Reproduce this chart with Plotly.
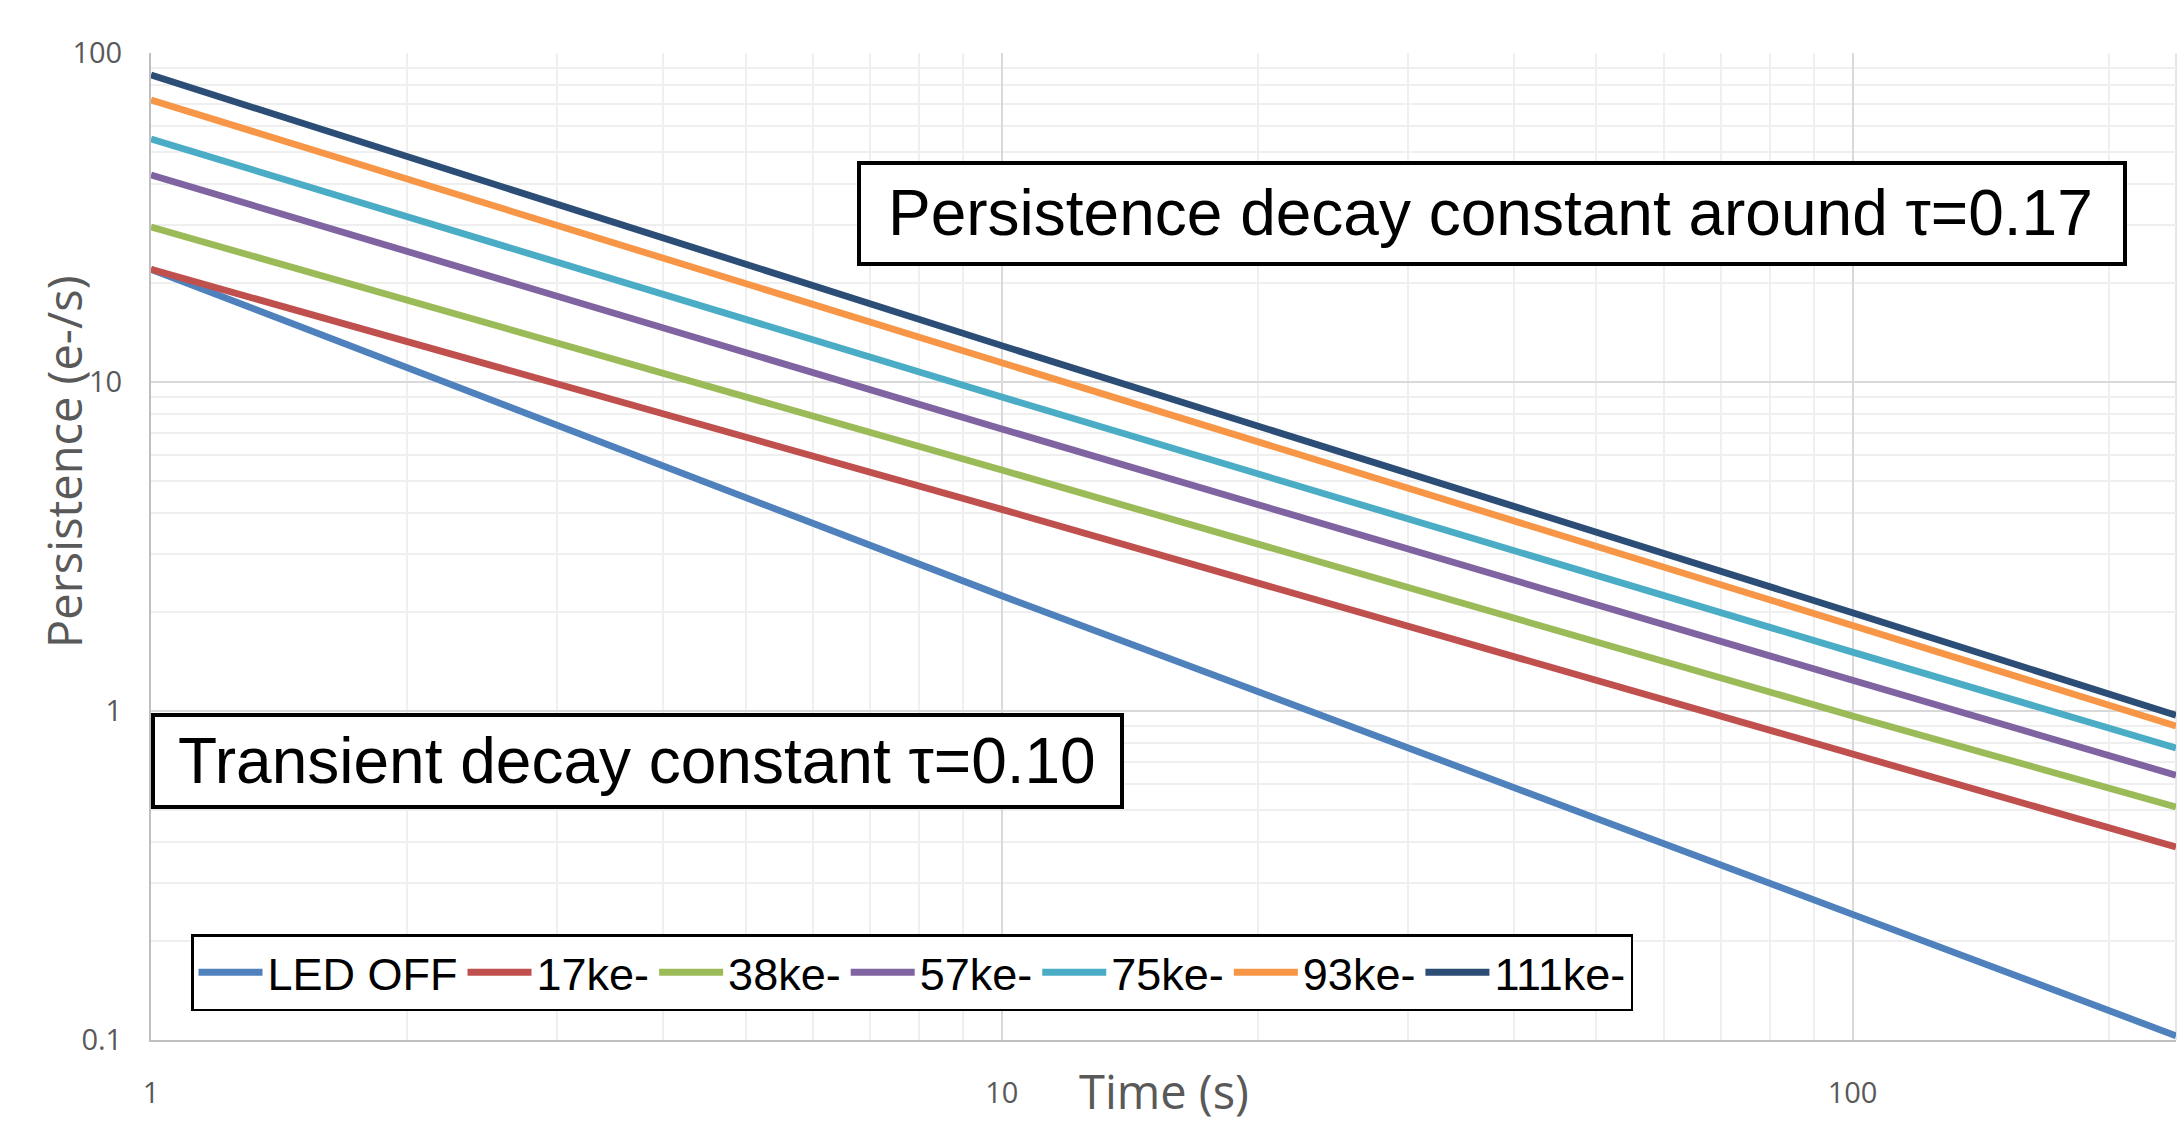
import plotly.graph_objects as go

# ---- data ----
times = [1, 10, 100, 240]
series_names = ["LED OFF", "17ke-", "38ke-", "57ke-", "75ke-", "93ke-", "111ke-"]
led_off = [22.0, 2.24, 0.241, 0.103]
ke17 = [22.0, 4.1, 0.74, 0.386]
ke38 = [29.6, 5.4, 0.966, 0.511]
ke57 = [42.6, 7.2, 1.24, 0.638]
ke75 = [54.8, 9.0, 1.51, 0.772]
ke93 = [72.0, 11.5, 1.82, 0.90]
ke111 = [85.7, 12.9, 1.99, 0.97]
series_values = [led_off, ke17, ke38, ke57, ke75, ke93, ke111]
colors = ["#4F81BD", "#C0504D", "#9BBB59", "#8064A2", "#4BACC6", "#F79646", "#2C4D75"]

x_ticks = [1, 10, 100]
x_ticktext = ["1", "10", "100"]
y_ticks = [0.1, 1, 10, 100]
y_ticktext = ["0.1", "1", "10", "100"]
x_minor = [2, 3, 4, 5, 6, 7, 8, 9, 20, 30, 40, 50, 60, 70, 80, 90, 200]
y_minor = [0.2, 0.3, 0.4, 0.5, 0.6, 0.7, 0.8, 0.9, 2, 3, 4, 5, 6, 7, 8, 9,
           20, 30, 40, 50, 60, 70, 80, 90]

W, H = 2182, 1125
L, R, T, B = 151, 6, 53, 85
PW, PH = W - L - R, H - T - B

def px(xp):
    return (xp - L) / PW

def py(yp):
    return (H - B - yp) / PH

fig = go.Figure()
for name, vals, c in zip(series_names, series_values, colors):
    fig.add_trace(go.Scatter(x=times, y=vals, mode="lines", name=name,
                             line=dict(color=c, width=6.8)))

tick_font = dict(family="Open Sans", size=29, color="#595959")
fig.update_layout(
    width=W, height=H,
    margin=dict(l=L, r=R, t=T, b=B, autoexpand=False),
    paper_bgcolor="white", plot_bgcolor="white",
    showlegend=True,
    legend=dict(orientation="h", x=px(191), y=py(934), xanchor="left", yanchor="top",
                bordercolor="black", borderwidth=2.5, bgcolor="white",
                font=dict(family="Liberation Sans, Arial", size=45, color="black"),
                itemwidth=64, tracegroupgap=0),
    xaxis=dict(type="log", range=[0, 2.3802], tickvals=x_ticks, ticktext=x_ticktext,
               tickfont=tick_font, showgrid=True, gridcolor="#d9d9d9", gridwidth=2,
               showline=True, linecolor="#bfbfbf", linewidth=2, ticks="",
               ticklabelstandoff=26, zeroline=False,
               minor=dict(tickvals=x_minor, showgrid=True, gridcolor="#efefef", gridwidth=2, ticks="")),
    yaxis=dict(type="log", range=[-1, 2], tickvals=y_ticks, ticktext=y_ticktext,
               tickfont=tick_font, showgrid=True, gridcolor="#d9d9d9", gridwidth=2,
               showline=True, linecolor="#bfbfbf", linewidth=2, ticks="",
               ticklabelstandoff=21, zeroline=False,
               minor=dict(tickvals=y_minor, showgrid=True, gridcolor="#efefef", gridwidth=2, ticks="")),
)

# right plot edge
fig.add_shape(type="line", xref="paper", yref="paper", x0=1, x1=1, y0=0, y1=1,
              line=dict(color="#e6e6e6", width=2), layer="below")

title_font = dict(family="Open Sans", size=47, color="#595959")
fig.add_annotation(text="Time (s)", xref="paper", yref="paper", x=0.5, y=py(1091),
                   xanchor="center", yanchor="middle", showarrow=False, font=title_font)
fig.add_annotation(text="Persistence (e-/s)", xref="paper", yref="paper", x=px(64), y=py(462),
                   xanchor="center", yanchor="middle", showarrow=False, textangle=-90, font=title_font)

# text boxes
box_font = dict(family="Liberation Sans, Arial", size=64, color="black")
fig.add_shape(type="rect", xref="paper", yref="paper", x0=px(859), x1=px(2125), y0=py(264), y1=py(163),
              line=dict(color="black", width=4), fillcolor="white", layer="above")
fig.add_annotation(text="Persistence decay constant around \u03c4=0.17", xref="paper", yref="paper",
                   x=px(1490), y=py(213), xanchor="center", yanchor="middle", showarrow=False, font=box_font)
fig.add_shape(type="rect", xref="paper", yref="paper", x0=px(153), x1=px(1122), y0=py(807), y1=py(715),
              line=dict(color="black", width=4), fillcolor="white", layer="above")
fig.add_annotation(text="Transient decay constant \u03c4=0.10", xref="paper", yref="paper",
                   x=px(637), y=py(761), xanchor="center", yanchor="middle", showarrow=False, font=box_font)

fig.write_html("out.html", config={"displayModeBar": False},
               post_script="document.body.style.margin='0';document.body.style.overflow='hidden';")
